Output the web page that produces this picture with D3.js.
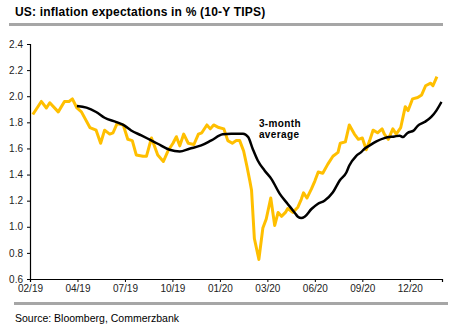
<!DOCTYPE html>
<html>
<head>
<meta charset="utf-8">
<script src="https://cdn.jsdelivr.net/npm/d3@7"></script>
<style>
  body { margin: 0; background: #fff; }
  svg { display: block; font-family: "Liberation Sans", Arial, sans-serif; }
</style>
</head>
<body>
<div id="chart"></div>
<script>
// 10-Y TIPS breakeven
var tipsDates = ["2019-02-06","2019-02-21","2019-03-02","2019-03-08","2019-03-23","2019-04-03","2019-04-11","2019-04-17","2019-04-25","2019-05-03",
  "2019-05-18","2019-05-29","2019-06-06","2019-06-13","2019-06-22","2019-06-28","2019-07-05","2019-07-16","2019-07-24","2019-08-01",
  "2019-08-08","2019-08-20","2019-08-26","2019-09-04","2019-09-15","2019-09-25","2019-10-03","2019-10-12","2019-10-18","2019-10-24",
  "2019-10-31","2019-11-08","2019-11-18","2019-11-26","2019-12-02","2019-12-11","2019-12-17","2019-12-23","2020-01-01","2020-01-10",
  "2020-01-17","2020-01-25","2020-02-01","2020-02-07","2020-02-14","2020-02-20","2020-02-25","2020-02-28","2020-03-04","2020-03-12",
  "2020-03-19","2020-03-25","2020-04-02","2020-04-09","2020-04-15","2020-04-21","2020-04-28","2020-05-02","2020-05-11","2020-05-20",
  "2020-05-26","2020-05-30","2020-06-05","2020-06-13","2020-06-19","2020-06-25","2020-07-03","2020-07-12","2020-07-21","2020-07-30",
  "2020-08-03","2020-08-12","2020-08-19","2020-08-28","2020-09-04","2020-09-11","2020-09-18","2020-09-24","2020-09-30","2020-10-08",
  "2020-10-16","2020-10-20","2020-10-27","2020-11-04","2020-11-10","2020-11-18","2020-11-26","2020-12-01","2020-12-09","2020-12-18",
  "2020-12-25","2021-01-01","2021-01-10","2021-01-14","2021-01-21"];
var tipsValues = [1.86,1.96,1.91,1.95,1.88,1.96,1.96,1.98,1.91,1.88,
  1.76,1.74,1.64,1.74,1.71,1.72,1.79,1.78,1.67,1.66,
  1.55,1.54,1.54,1.68,1.55,1.50,1.58,1.64,1.69,1.62,
  1.71,1.64,1.63,1.71,1.72,1.78,1.75,1.78,1.76,1.75,
  1.66,1.64,1.66,1.66,1.58,1.46,1.35,1.28,0.91,0.75,
  0.99,1.06,1.22,1.01,1.11,1.08,1.11,1.14,1.11,1.15,
  1.21,1.26,1.22,1.29,1.35,1.42,1.41,1.48,1.54,1.57,
  1.64,1.65,1.78,1.71,1.67,1.68,1.59,1.66,1.74,1.72,
  1.75,1.71,1.67,1.75,1.71,1.76,1.92,1.89,1.98,1.99,
  2.01,2.08,2.10,2.08,2.15];

// 3-month average
var avgDates = ["2019-04-25","2019-05-12","2019-05-29","2019-06-13","2019-07-04","2019-07-19","2019-07-30","2019-08-17","2019-09-01","2019-09-15",
  "2019-10-06","2019-10-24","2019-11-10","2019-12-01","2019-12-19","2020-01-08","2020-01-23","2020-02-13","2020-02-22","2020-03-01",
  "2020-03-10","2020-03-22","2020-04-03","2020-04-18","2020-05-02","2020-05-14","2020-05-20","2020-05-26","2020-06-01","2020-06-13",
  "2020-06-24","2020-07-06","2020-07-21","2020-08-02","2020-08-14","2020-08-19","2020-08-31","2020-09-09","2020-09-15","2020-09-24",
  "2020-10-06","2020-10-20","2020-11-07","2020-11-16","2020-11-22","2020-11-30","2020-12-11","2020-12-18","2020-12-30","2021-01-11",
  "2021-01-20","2021-01-29"];
var avgValues = [1.925,1.913,1.879,1.835,1.802,1.773,1.738,1.70,1.667,1.636,
  1.59,1.577,1.598,1.623,1.662,1.708,1.713,1.713,1.687,1.598,
  1.508,1.431,1.367,1.252,1.175,1.11,1.077,1.067,1.077,1.136,
  1.175,1.20,1.264,1.354,1.418,1.469,1.542,1.572,1.598,1.623,
  1.654,1.679,1.692,1.698,1.687,1.719,1.738,1.773,1.802,1.841,
  1.89,1.956];

var yTicks = [0.6, 0.8, 1.0, 1.2, 1.4, 1.6, 1.8, 2.0, 2.2, 2.4];
var xTickDates = ["2019-02-01","2019-04-26","2019-07-19","2019-10-11","2020-01-03","2020-03-27","2020-06-19","2020-09-11","2020-12-04"];

var width = 449, height = 328;
var margin = {top: 44, right: 7, bottom: 49, left: 30};
var parse = d3.timeParse("%Y-%m-%d");

var svg = d3.select("#chart").append("svg")
    .attr("width", width)
    .attr("height", height);

// title + grey rules
svg.append("text")
    .attr("x", 15).attr("y", 16)
    .attr("font-size", "12px").attr("font-weight", "bold").attr("fill", "#000")
    .attr("letter-spacing", "0.2px")
    .text("US: inflation expectations in % (10-Y TIPS)");
svg.append("rect").attr("x", 9).attr("y", 23).attr("width", 434).attr("height", 3).attr("fill", "#a6a6a6");
svg.append("rect").attr("x", 14).attr("y", 302).attr("width", 434).attr("height", 3).attr("fill", "#a6a6a6");
svg.append("text")
    .attr("x", 15).attr("y", 322)
    .attr("font-size", "10.5px").attr("fill", "#000")
    .text("Source: Bloomberg, Commerzbank");

var chartWidth = width - margin.left - margin.right;
var chartHeight = height - margin.top - margin.bottom;

var x = d3.scaleTime()
    .domain([parse("2019-02-01"), parse("2021-01-30")])
    .range([0, chartWidth]);
var y = d3.scaleLinear()
    .domain([0.6, 2.4])
    .range([chartHeight, 0]);

var viz = svg.append("g")
    .attr("transform", "translate(" + margin.left + "," + margin.top + ")");

var yAxis = d3.axisLeft(y).tickValues(yTicks).tickFormat(d3.format(".1f")).tickSize(3).tickPadding(4);
var xAxis = d3.axisBottom(x).tickValues(xTickDates.map(parse)).tickFormat(d3.timeFormat("%m/%y")).tickSize(3).tickPadding(3);

viz.append("g").attr("class", "y axis").call(yAxis)
  .call(function(g) {
    g.select(".domain").attr("stroke", "#000").attr("stroke-width", 1.2);
    g.selectAll(".tick line").attr("stroke", "#000");
    g.selectAll(".tick text").attr("font-size", "10px").attr("fill", "#222").attr("font-family", "Liberation Sans, Arial, sans-serif");
  });

viz.append("g").attr("class", "x axis")
  .attr("transform", "translate(0," + chartHeight + ")")
  .call(xAxis)
  .call(function(g) {
    g.select(".domain").attr("stroke", "#000").attr("stroke-width", 1.2);
    g.selectAll(".tick line").attr("stroke", "#000");
    g.selectAll(".tick text").attr("font-size", "10px").attr("fill", "#222").attr("font-family", "Liberation Sans, Arial, sans-serif");
  });

var tips = tipsDates.map(function(d, i) { return {date: parse(d), value: tipsValues[i]}; });
var avg = avgDates.map(function(d, i) { return {date: parse(d), value: avgValues[i]}; });

var line = d3.line()
    .x(function(d) { return x(d.date); })
    .y(function(d) { return y(d.value); });

viz.append("path").datum(tips)
    .attr("d", line)
    .attr("fill", "none")
    .attr("stroke", "#FFBF00")
    .attr("stroke-width", 3)
    .attr("stroke-linejoin", "round");

viz.append("path").datum(avg)
    .attr("d", line.curve(d3.curveMonotoneX))
    .attr("fill", "none")
    .attr("stroke", "#000")
    .attr("stroke-width", 2.5)
    .attr("stroke-linejoin", "round");

// annotation
var note = viz.append("text")
    .attr("font-size", "10px").attr("font-weight", "bold").attr("fill", "#000")
    .attr("letter-spacing", "0.4px");
note.append("tspan").attr("x", x(parse("2020-03-12"))).attr("y", y(1.765)).text("3-month");
note.append("tspan").attr("x", x(parse("2020-03-12"))).attr("y", y(1.68)).text("average");
</script>
</body>
</html>
